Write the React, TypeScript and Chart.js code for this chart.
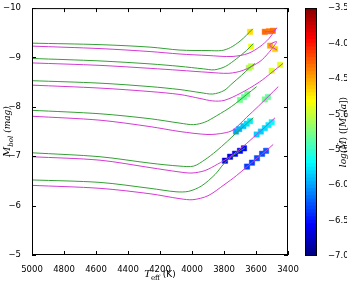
import React, { useEffect, useRef } from "react";
import { Chart, registerables } from "chart.js";

Chart.register(...registerables);

// ---------- axes ----------
const TEFF_MIN = 3400;
const TEFF_MAX = 5000;
const TEFF_STEP = 200;
const MBOL_MIN = -10;
const MBOL_MAX = -5;
const MBOL_STEP = 1;
const MDOT_MIN = -7;
const MDOT_MAX = -3.5;
const MDOT_STEP = 0.5;

// ---------- evolutionary tracks [Teff (K), Mbol (mag)] ----------
const greenTrack1: [number, number][] = [
  [5000, -9.29], [4575, -9.26], [4262, -9.21], [4075, -9.15], [3900, -9.14],
  [3815, -9.14], [3760, -9.2], [3700, -9.33], [3660, -9.45], [3620, -9.58],
];
const magentaTrack1: [number, number][] = [
  [5000, -9.23], [4575, -9.18], [4262, -9.12], [4075, -9.07], [3900, -9.04],
  [3750, -9.02], [3650, -9.08], [3575, -9.22], [3520, -9.38], [3471, -9.6],
  [3490, -9.53], [3545, -9.52],
];
const greenTrack2: [number, number][] = [
  [5000, -8.98], [4575, -8.93], [4262, -8.87], [4075, -8.82], [3930, -8.77],
  [3860, -8.75], [3790, -8.82], [3720, -8.98], [3660, -9.14], [3617, -9.28],
];
const magentaTrack2: [number, number][] = [
  [5000, -8.89], [4575, -8.84], [4262, -8.78], [4075, -8.74], [3900, -8.7],
  [3770, -8.68], [3680, -8.74], [3575, -8.92], [3520, -9.1], [3471, -9.32],
  [3515, -9.25], [3468, -9.15],
];
const greenTrack3: [number, number][] = [
  [5000, -8.53], [4575, -8.48], [4262, -8.41], [4075, -8.35], [3950, -8.29],
  [3870, -8.26], [3800, -8.33], [3750, -8.47], [3690, -8.64], [3637, -8.8],
  [3606, -8.88],
];
const magentaTrack3: [number, number][] = [
  [5000, -8.44], [4575, -8.38], [4262, -8.31], [4075, -8.25], [3950, -8.17],
  [3870, -8.12], [3800, -8.13], [3700, -8.27], [3580, -8.5], [3500, -8.7],
  [3431, -8.88],
];
const greenTrack4: [number, number][] = [
  [5000, -7.93], [4575, -7.86], [4262, -7.76], [4075, -7.67], [3990, -7.64],
  [3920, -7.69], [3846, -7.82], [3752, -8.01], [3658, -8.25], [3596, -8.41],
];
const magentaTrack4: [number, number][] = [
  [5000, -7.81], [4575, -7.73], [4262, -7.6], [4075, -7.5], [3900, -7.44],
  [3800, -7.47], [3744, -7.53], [3658, -7.79], [3586, -8.01], [3520, -8.22],
  [3461, -8.41],
];
const greenTrack5: [number, number][] = [
  [5000, -7.07], [4575, -6.99], [4262, -6.86], [4075, -6.8], [3990, -6.8],
  [3919, -6.93], [3850, -7.1], [3780, -7.3], [3721, -7.48], [3679, -7.6],
  [3617, -7.78],
];
const magentaTrack5: [number, number][] = [
  [5000, -6.99], [4575, -6.92], [4262, -6.77], [4075, -6.68], [4000, -6.66],
  [3919, -6.71], [3840, -6.84], [3762, -6.99], [3680, -7.2], [3596, -7.44],
  [3540, -7.6], [3481, -7.78],
];
const greenTrack6: [number, number][] = [
  [5000, -6.52], [4575, -6.47], [4262, -6.35], [4100, -6.28], [4020, -6.29],
  [3940, -6.4], [3856, -6.63], [3800, -6.85], [3740, -7.02], [3669, -7.17],
];
const magentaTrack6: [number, number][] = [
  [5000, -6.41], [4575, -6.35], [4262, -6.24], [4075, -6.14], [3994, -6.12],
  [3900, -6.2], [3800, -6.42], [3721, -6.61], [3656, -6.79], [3594, -6.96],
  [3537, -7.11], [3492, -7.24],
];

// ---------- mass-loss points [Teff (K), Mbol (mag), log Mdot] ----------
const massLossGreen1: [number, number, number][] = [[3637, -9.52, -4.7]];
const massLossMagenta1: [number, number, number][] = [
  [3545, -9.52, -4.3], [3520, -9.53, -4.35], [3495, -9.54, -4.3],
];
const massLossGreen2: [number, number, number][] = [[3631, -9.22, -4.85]];
const massLossMagenta2: [number, number, number][] = [
  [3512, -9.24, -4.5], [3481, -9.17, -4.65],
];
const massLossGreen3: [number, number, number][] = [
  [3645, -8.79, -5.1], [3632, -8.82, -5.05],
];
const massLossMagenta3: [number, number, number][] = [
  [3502, -8.73, -4.95], [3450, -8.85, -4.9],
];
const massLossGreen4: [number, number, number][] = [
  [3700, -8.14, -5.3], [3675, -8.2, -5.35], [3655, -8.26, -5.3],
];
const massLossMagenta4: [number, number, number][] = [
  [3545, -8.15, -5.3], [3525, -8.2, -5.35],
];
const massLossGreen5: [number, number, number][] = [
  [3725, -7.5, -6.0], [3705, -7.55, -5.95], [3679, -7.61, -5.9],
  [3658, -7.66, -5.8], [3637, -7.71, -5.75],
];
const massLossMagenta5: [number, number, number][] = [
  [3596, -7.44, -5.85], [3570, -7.5, -5.85], [3545, -7.57, -5.8],
  [3522, -7.63, -5.75], [3502, -7.69, -5.7],
];
const massLossGreen6: [number, number, number][] = [
  [3794, -6.91, -6.7], [3762, -6.99, -6.65], [3731, -7.05, -6.6],
  [3700, -7.11, -6.55], [3675, -7.16, -6.55],
];
const massLossMagenta6: [number, number, number][] = [
  [3656, -6.79, -6.35], [3625, -6.87, -6.35], [3594, -6.96, -6.3],
  [3562, -7.05, -6.3], [3537, -7.11, -6.25],
];

const greenTracks = [greenTrack1, greenTrack2, greenTrack3, greenTrack4, greenTrack5, greenTrack6];
const magentaTracks = [magentaTrack1, magentaTrack2, magentaTrack3, magentaTrack4, magentaTrack5, magentaTrack6];
const massLossSets = [
  massLossGreen1, massLossMagenta1, massLossGreen2, massLossMagenta2,
  massLossGreen3, massLossMagenta3, massLossGreen4, massLossMagenta4,
  massLossGreen5, massLossMagenta5, massLossGreen6, massLossMagenta6,
];

const GREEN = "#35a035";
const MAGENTA = "#d43ad4";
const SANS = '"DejaVu Sans", sans-serif';
const SERIF = '"DejaVu Serif", serif';
const TICK_FONT = { family: SANS, size: 8.5 };

function clamp01(v: number) {
  return Math.max(0, Math.min(1, v));
}
function jet(v: number, alpha = 1) {
  const t = clamp01((v - MDOT_MIN) / (MDOT_MAX - MDOT_MIN));
  const r = clamp01(1.5 - Math.abs(4 * t - 3));
  const g = clamp01(1.5 - Math.abs(4 * t - 2));
  const b = clamp01(1.5 - Math.abs(4 * t - 1));
  return `rgba(${Math.round(r * 255)},${Math.round(g * 255)},${Math.round(b * 255)},${alpha})`;
}
function minusFmt(v: number, digits: number) {
  const s = Math.abs(v).toFixed(digits);
  return v < 0 ? "\u2212" + s : s;
}

type Piece = { t: string; f: string; dy?: number };
function drawPieces(ctx: CanvasRenderingContext2D, pieces: Piece[], cx: number, y: number) {
  let total = 0;
  const widths = pieces.map((p) => {
    ctx.font = p.f;
    const w = ctx.measureText(p.t).width;
    total += w;
    return w;
  });
  let x = cx - total / 2;
  ctx.textAlign = "left";
  ctx.textBaseline = "alphabetic";
  pieces.forEach((p, i) => {
    ctx.font = p.f;
    ctx.fillText(p.t, x, y + (p.dy || 0));
    x += widths[i];
  });
}

const mainDecor = {
  id: "mainDecor",
  afterDraw(chart: any) {
    const { ctx, chartArea: a, scales } = chart;
    ctx.save();
    ctx.strokeStyle = "#000";
    ctx.lineWidth = 1;
    ctx.strokeRect(a.left + 0.5, a.top + 0.5, a.right - a.left - 1, a.bottom - a.top - 1);
    const L = 4;
    ctx.beginPath();
    scales.x.ticks.forEach((tk: any) => {
      const px = Math.round(scales.x.getPixelForValue(tk.value)) + 0.5;
      ctx.moveTo(px, a.bottom);
      ctx.lineTo(px, a.bottom - L);
      ctx.moveTo(px, a.top);
      ctx.lineTo(px, a.top + L);
    });
    scales.y.ticks.forEach((tk: any) => {
      const py = Math.round(scales.y.getPixelForValue(tk.value)) + 0.5;
      ctx.moveTo(a.left, py);
      ctx.lineTo(a.left + L, py);
      ctx.moveTo(a.right, py);
      ctx.lineTo(a.right - L, py);
    });
    ctx.stroke();

    ctx.fillStyle = "#000";
    drawPieces(
      ctx,
      [
        { t: "T", f: `italic 10px ${SERIF}` },
        { t: "eff", f: `7px ${SERIF}`, dy: 2.5 },
        { t: " (K)", f: `9px ${SANS}` },
      ],
      (a.left + a.right) / 2,
      277
    );
    ctx.save();
    ctx.translate(10, (a.top + a.bottom) / 2);
    ctx.rotate(-Math.PI / 2);
    drawPieces(
      ctx,
      [
        { t: "M", f: `italic 10px ${SERIF}` },
        { t: "bol", f: `italic 7px ${SERIF}`, dy: 2.5 },
        { t: " (mag)", f: `italic 9px ${SERIF}` },
      ],
      0,
      0
    );
    ctx.restore();
    ctx.restore();
  },
};

const colorbarDecor = {
  id: "colorbarDecor",
  afterDraw(chart: any) {
    const { ctx, chartArea: a } = chart;
    ctx.save();
    ctx.strokeStyle = "#000";
    ctx.lineWidth = 1;
    ctx.strokeRect(a.left + 0.5, a.top + 0.5, a.right - a.left - 1, a.bottom - a.top - 1);
    ctx.fillStyle = "#000";
    ctx.translate(346, (a.top + a.bottom) / 2);
    ctx.rotate(-Math.PI / 2);
    drawPieces(
      ctx,
      [
        { t: "log(", f: `italic 9px ${SERIF}` },
        { t: "\u1E40", f: `italic 9px ${SERIF}` },
        { t: ") ([", f: `9px ${SERIF}` },
        { t: "M", f: `italic 9px ${SERIF}` },
        { t: "\u2299", f: `6.5px ${SANS}`, dy: 2 },
        { t: "/", f: `9px ${SERIF}` },
        { t: "a", f: `italic 9px ${SERIF}` },
        { t: "])", f: `9px ${SERIF}` },
      ],
      0,
      0
    );
    ctx.restore();
  },
};

export default function App() {
  const mainRef = useRef<HTMLCanvasElement | null>(null);
  const cbRef = useRef<HTMLCanvasElement | null>(null);

  useEffect(() => {
    document.body.style.margin = "0";
    const lineSets: any[] = [];
    greenTracks.forEach((tr) =>
      lineSets.push({
        data: tr.map(([x, y]) => ({ x, y })),
        showLine: true,
        borderColor: GREEN,
        borderWidth: 1,
        pointRadius: 0,
        tension: 0.3,
        fill: false,
        order: 0,
      })
    );
    magentaTracks.forEach((tr) =>
      lineSets.push({
        data: tr.map(([x, y]) => ({ x, y })),
        showLine: true,
        borderColor: MAGENTA,
        borderWidth: 1,
        pointRadius: 0,
        tension: 0.3,
        fill: false,
        order: 0,
      })
    );
    const markerSets = massLossSets.map((set) => ({
      data: set.map(([x, y]) => ({ x, y })),
      showLine: false,
      pointStyle: "rect",
      pointRadius: 3.8,
      borderWidth: 1,
      borderColor: set.map((p) => jet(p[2], 0.45)),
      backgroundColor: set.map((p) => jet(p[2])),
      order: 1,
    }));

    const main = new Chart(mainRef.current as HTMLCanvasElement, {
      type: "scatter",
      data: { datasets: [...lineSets, ...markerSets] },
      plugins: [mainDecor],
      options: {
        animation: false,
        responsive: false,
        devicePixelRatio: 1,
        layout: { padding: { left: 0, top: 6, right: 66, bottom: 0 } },
        plugins: { legend: { display: false }, tooltip: { enabled: false } },
        scales: {
          x: {
            type: "linear",
            min: TEFF_MIN,
            max: TEFF_MAX,
            reverse: true,
            grid: { display: false },
            border: { display: false },
            ticks: {
              stepSize: TEFF_STEP,
              autoSkip: false,
              maxRotation: 0,
              padding: 2,
              color: "#000",
              font: TICK_FONT,
              callback: (v: any) => String(v),
            },
            afterFit: (s: any) => {
              s.height = 26;
            },
          },
          y: {
            type: "linear",
            min: MBOL_MIN,
            max: MBOL_MAX,
            reverse: true,
            grid: { display: false },
            border: { display: false },
            ticks: {
              stepSize: MBOL_STEP,
              padding: 3,
              color: "#000",
              font: TICK_FONT,
              callback: (v: any) => minusFmt(Number(v), 0),
            },
            afterFit: (s: any) => {
              s.width = 32;
            },
          },
        },
      } as any,
    });

    const CB_SEG = 0.05;
    const segs: number[] = [];
    for (let i = 0; MDOT_MIN + i * CB_SEG < MDOT_MAX - 1e-9; i++) segs.push(MDOT_MIN + i * CB_SEG);
    const cb = new Chart(cbRef.current as HTMLCanvasElement, {
      type: "bar",
      data: {
        labels: ["cb"],
        datasets: segs.map((v) => ({
          data: [[v, Math.min(MDOT_MAX, v + CB_SEG + 0.006)]],
          backgroundColor: jet(v + CB_SEG / 2),
          borderWidth: 0,
          borderSkipped: false,
          barPercentage: 1,
          categoryPercentage: 1,
          grouped: false,
        })) as any,
      },
      plugins: [colorbarDecor],
      options: {
        animation: false,
        responsive: false,
        devicePixelRatio: 1,
        layout: { padding: { left: 305, top: 6, right: 7, bottom: 25 } },
        plugins: { legend: { display: false }, tooltip: { enabled: false } },
        scales: {
          x: { type: "category", display: false },
          y: {
            type: "linear",
            position: "right",
            min: MDOT_MIN,
            max: MDOT_MAX,
            grid: { display: false },
            border: { display: false },
            ticks: {
              stepSize: MDOT_STEP,
              padding: 3,
              color: "#000",
              font: TICK_FONT,
              callback: (v: any) => minusFmt(Number(v), 1),
            },
            afterFit: (s: any) => {
              s.width = 30;
            },
          },
        },
      } as any,
    });

    return () => {
      main.destroy();
      cb.destroy();
    };
  }, []);

  return (
    <div style={{ position: "relative", width: 354, height: 281 }}>
      <canvas ref={mainRef} width={354} height={281} style={{ position: "absolute", left: 0, top: 0 }} />
      <canvas ref={cbRef} width={354} height={281} style={{ position: "absolute", left: 0, top: 0 }} />
    </div>
  );
}
